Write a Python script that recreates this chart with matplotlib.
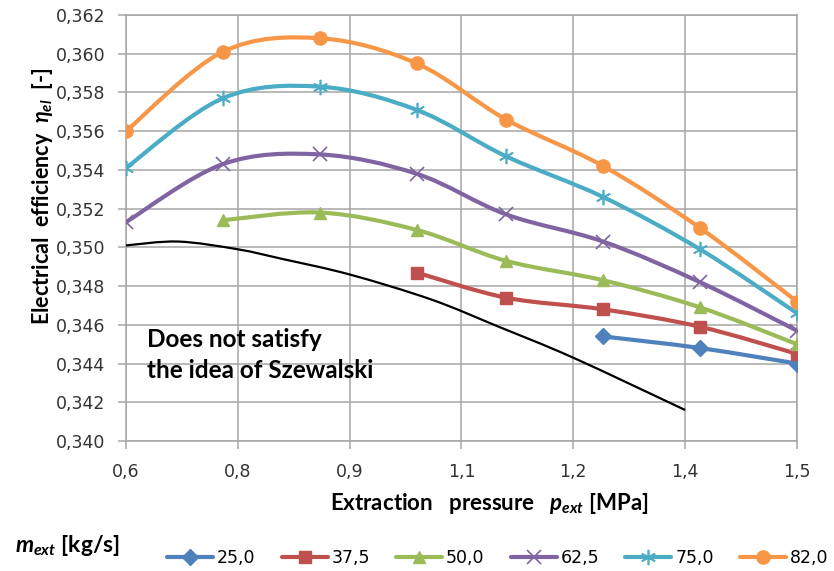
import numpy as np
import matplotlib.pyplot as plt
from matplotlib.path import Path
from matplotlib.patches import PathPatch
from matplotlib.lines import Line2D

plt.rcParams['mathtext.fontset'] = 'custom'
plt.rcParams['mathtext.it'] = 'Lato:italic:bold'
plt.rcParams['mathtext.rm'] = 'Lato:bold'
plt.rcParams['mathtext.bf'] = 'Lato:bold'

# extraction pressure [MPa]
p_ext = [0.60, 0.73, 0.86, 0.99, 1.11, 1.24, 1.37, 1.50]
nan = np.nan

# electrical efficiency for each extraction mass flow [kg/s]
eta_25_0 = [nan, nan, nan, nan, nan, 0.3454, 0.3448, 0.3440]
eta_37_5 = [nan, nan, nan, 0.3487, 0.3474, 0.3468, 0.3459, 0.3445]
eta_50_0 = [nan, 0.3514, 0.3518, 0.3509, 0.3493, 0.3483, 0.3469, 0.3450]
eta_62_5 = [0.3513, 0.3543, 0.3548, 0.3538, 0.3517, 0.3503, 0.3482, 0.3457]
eta_75_0 = [0.3541, 0.3577, 0.3583, 0.3571, 0.3547, 0.3526, 0.3499, 0.3466]
eta_82_0 = [0.3560, 0.3601, 0.3608, 0.3595, 0.3566, 0.3542, 0.3510, 0.3472]

series_labels = ['25,0', '37,5', '50,0', '62,5', '75,0', '82,0']

# boundary line (Szewalski)
p_limit = [0.60, 0.67, 0.75, 0.81, 0.90, 1.01, 1.10, 1.20, 1.35]
eta_limit = [0.3501, 0.3503, 0.3499, 0.3494, 0.3486, 0.3473, 0.3459, 0.3443, 0.3416]

x_ticks = [0.6, 0.75, 0.9, 1.05, 1.2, 1.35, 1.5]
x_tick_labels = ['0,6', '0,8', '0,9', '1,1', '1,2', '1,4', '1,5']
y_ticks = [0.340, 0.342, 0.344, 0.346, 0.348, 0.350, 0.352, 0.354, 0.356, 0.358, 0.360, 0.362]

colors = ['#4F81BD', '#C0504D', '#9BBB59', '#8064A2', '#4BACC6', '#F79646']
markers = ['D', 's', '^', 'x', (6, 2, 0), 'o']
msizes = [8, 9, 9, 10, 11, 9.5]


def smooth_path(x, y):
    # excel-like smoothed line: cubic bezier through the points
    x = np.asarray(x, float)
    y = np.asarray(y, float)
    ok = ~np.isnan(y)
    pts = np.column_stack([x[ok], y[ok]])
    n = len(pts)
    verts = [pts[0]]
    codes = [Path.MOVETO]
    for i in range(n - 1):
        p0 = pts[max(i - 1, 0)]
        p1 = pts[i]
        p2 = pts[i + 1]
        p3 = pts[min(i + 2, n - 1)]
        verts += [p1 + (p2 - p0) / 6, p2 - (p3 - p1) / 6, p2]
        codes += [Path.CURVE4] * 3
    return Path(verts, codes)


fig = plt.figure(figsize=(8.34, 5.71), dpi=100)
ax = fig.add_axes([0.151, 0.2277, 0.8046, 0.746])

grid_c = '#a6a6a6'
ax.add_patch(PathPatch(smooth_path(p_limit, eta_limit), fill=False, color='black', lw=1.6, zorder=3))

all_eta = [eta_25_0, eta_37_5, eta_50_0, eta_62_5, eta_75_0, eta_82_0]
handles = []
for eta, c, m, ms, lab in zip(all_eta, colors, markers, msizes, series_labels):
    ax.add_patch(PathPatch(smooth_path(p_ext, eta), fill=False, color=c, lw=3, zorder=4,
                           capstyle='round', joinstyle='round'))
    thin = m in ('x', (6, 2, 0))
    ax.plot(p_ext, eta, ls='none', marker=m, ms=ms, color=c, mec=c,
            mew=1.2 if thin else 1, zorder=5)
    handles.append(Line2D([], [], color=c, lw=3, marker=m, ms=ms, mec=c,
                          mew=1.2 if thin else 1, solid_capstyle='round'))

ax.set_xlim(0.6, 1.5)
ax.set_ylim(0.340, 0.362)
ax.set_xticks(x_ticks)
ax.set_xticklabels(x_tick_labels)
ax.set_yticks(y_ticks)
ax.set_yticklabels([f'{v:.3f}'.replace('.', ',') for v in y_ticks])
ax.grid(True, color=grid_c, lw=1.1, zorder=0)
ax.set_axisbelow(True)
for s in ax.spines.values():
    s.set_color(grid_c)
    s.set_linewidth(1.1)
ax.tick_params(axis='both', color=grid_c, width=1.1, length=6, labelsize=12.5,
               labelcolor='#333333')
ax.tick_params(axis='y', pad=9)
ax.tick_params(axis='x', pad=10)

ax.text(0.628, 0.34584, 'Does not satisfy\nthe idea of Szewalski', family='Lato',
        weight='bold', fontsize=17.5, va='top', ha='left', linespacing=1.42, zorder=6)

fig.text(43 / 834, 1 - 196 / 571, r'Electrical  efficiency  $\eta_{el}$  [-]', family='Lato',
         weight='bold', fontsize=15.5, rotation=90, ha='center', va='center')
fig.text(489 / 834, 1 - 503 / 571, r'Extraction   pressure   $p_{ext}$ [MPa]', family='Lato',
         weight='bold', fontsize=16, ha='center', va='center')
fig.text(15 / 834, 1 - 546 / 571, r'$m_{ext}$ [kg/s]', family='Lato', weight='bold',
         fontsize=16.5, ha='left', va='center')

fig.legend(handles, series_labels, loc='center left', bbox_to_anchor=(167 / 834, 1 - 558 / 571),
           ncol=6, frameon=False, fontsize=12.5, handlelength=2.65, handletextpad=0.23,
           columnspacing=1.5, borderpad=0, borderaxespad=0, numpoints=1)

fig.savefig('out.png', dpi=100)
